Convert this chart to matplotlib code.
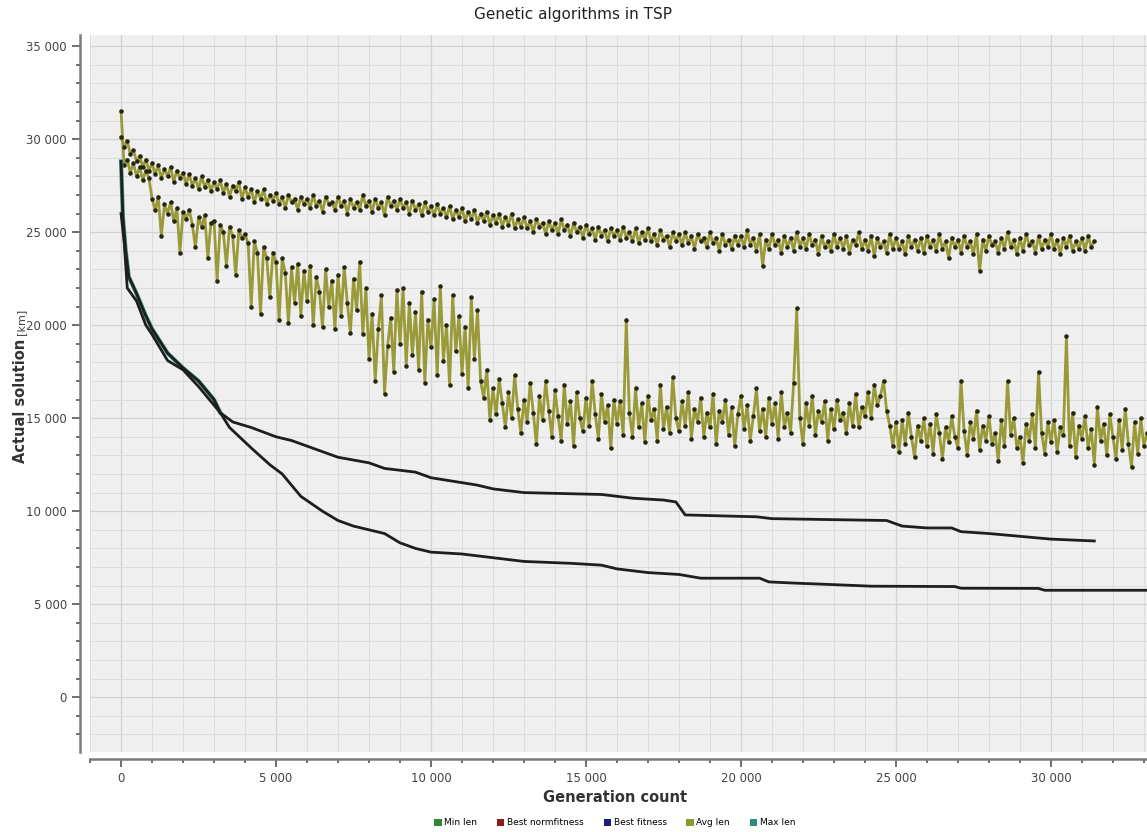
import numpy as np
import matplotlib
matplotlib.use("Agg")
import matplotlib.pyplot as plt
from matplotlib.patches import Patch
from matplotlib.ticker import MultipleLocator, FuncFormatter

# generation step between samples of the noisy series
gen_step = 100

# Max len (km, thousands), gens 0..31400
max_len_k = [
    30.1, 29.6, 29.9, 29.2, 29.4, 28.8, 29.1, 28.5, 28.9, 28.3,
    28.7, 28.1, 28.6, 27.9, 28.4, 28.0, 28.5, 27.7, 28.3, 27.9,
    28.2, 27.6, 28.1, 27.5, 27.9, 27.3, 28.0, 27.4, 27.8, 27.2,
    27.7, 27.3, 27.8, 27.1, 27.6, 26.9, 27.5, 27.2, 27.7, 26.8,
    27.4, 26.9, 27.3, 26.6, 27.2, 26.8, 27.3, 26.5, 27.0, 26.7,
    27.1, 26.5, 26.9, 26.3, 27.0, 26.6, 26.8, 26.2, 26.9, 26.5,
    26.8, 26.3, 27.0, 26.4, 26.7, 26.1, 26.9, 26.5, 26.6, 26.2,
    26.9, 26.4, 26.7, 26.0, 26.8, 26.3, 26.6, 26.2, 27.0, 26.4,
    26.7, 26.1, 26.8, 26.3, 26.6, 25.9, 26.9, 26.4, 26.7, 26.2,
    26.8, 26.3, 26.6, 26.0, 26.7, 26.2, 26.5, 25.9, 26.6, 26.1,
    26.4, 25.9, 26.5, 26.0, 26.3, 25.8, 26.4, 25.7, 26.2, 25.8,
    26.3, 25.6, 26.1, 25.7, 26.2, 25.5, 26.0, 25.6, 26.1, 25.4,
    25.9, 25.5, 26.0, 25.3, 25.8, 25.4, 26.0, 25.2, 25.7, 25.3,
    25.8, 25.2, 25.6, 25.0, 25.7, 25.3, 25.5, 24.9, 25.6, 25.1,
    25.5, 24.9, 25.7, 25.1, 25.4, 24.8, 25.5, 25.0, 25.3, 24.7,
    25.4, 24.9, 25.2, 24.6, 25.3, 24.8, 25.1, 24.5, 25.2, 24.8,
    25.1, 24.6, 25.3, 24.7, 25.0, 24.5, 25.2, 24.4, 25.0, 24.6,
    25.2, 24.5, 24.9, 24.3, 25.1, 24.6, 24.8, 24.2, 25.0, 24.5,
    24.9, 24.3, 25.0, 24.4, 24.8, 24.1, 24.9, 24.5, 24.7, 24.2,
    25.0, 24.4, 24.7, 24.0, 24.9, 24.3, 24.6, 24.1, 24.8, 24.3,
    24.8, 24.2, 25.1, 24.3, 24.7, 24.0, 24.9, 23.2, 24.6, 24.1,
    24.9, 24.3, 24.6, 23.9, 24.8, 24.2, 24.7, 24.0, 25.0, 24.2,
    24.7, 24.1, 24.9, 24.3, 24.6, 23.8, 24.8, 24.2, 24.5, 24.0,
    24.9, 24.2, 24.7, 24.1, 24.8, 23.9, 24.6, 24.3, 25.0, 24.1,
    24.6, 24.0, 24.8, 23.7, 24.7, 24.2, 24.5, 23.9, 24.9, 24.1,
    24.7, 24.1, 24.5, 23.8, 24.8, 24.2, 24.6, 24.0, 24.7, 23.9,
    24.8, 24.2, 24.6, 24.0, 24.9, 24.1, 24.5, 23.6, 24.7, 24.2,
    24.6, 23.9, 24.8, 24.2, 24.5, 23.8, 24.9, 22.9, 24.6, 24.0,
    24.8, 24.3, 24.5, 23.9, 24.7, 24.1, 25.0, 24.2, 24.6, 23.8,
    24.7, 24.0, 24.9, 24.3, 24.5, 23.9, 24.8, 24.1, 24.6, 24.2,
    24.9, 24.1, 24.6, 23.8, 24.7, 24.2, 24.8, 24.0, 24.5, 24.1,
    24.7, 24.0, 24.8, 24.2, 24.5,
]

# Avg len (km, thousands), gens 0..33100
avg_len_k = [
    31.5, 28.6, 28.9, 28.2, 28.7, 28.0, 28.5, 27.8, 28.3, 27.9,
    26.8, 26.2, 26.9, 24.8, 26.5, 26.0, 26.6, 25.6, 26.3, 23.9,
    26.1, 25.7, 26.2, 25.4, 24.2, 25.8, 25.3, 25.9, 23.6, 25.5,
    25.6, 22.4, 25.4, 25.0, 23.2, 25.3, 24.8, 22.7, 25.1, 24.7,
    24.9, 24.4, 21.0, 24.5, 23.9, 20.6, 24.2, 23.6, 21.5, 23.9,
    23.4, 20.3, 23.6, 22.8, 20.1, 23.1, 21.2, 23.3, 20.5, 22.9,
    21.3, 23.2, 20.0, 22.6, 21.8, 19.9, 23.0, 21.0, 22.4, 19.8,
    22.7, 20.5, 23.1, 21.2, 19.6, 22.5, 20.8, 23.4, 19.5, 22.0,
    18.2, 20.6, 17.0, 19.8, 21.6, 16.3, 18.9, 20.4, 17.5, 21.9,
    19.0, 22.0, 17.8, 21.2, 18.4, 20.7, 17.6, 21.8, 16.9, 20.3,
    18.8, 21.4, 17.3, 22.1, 18.1, 20.0, 16.8, 21.6, 18.6, 20.5,
    17.4, 19.9, 16.6, 21.5, 18.2, 20.8, 17.0, 16.1, 17.6, 14.9,
    16.6, 15.2, 17.1, 15.8, 14.5, 16.4, 15.0, 17.3, 15.5, 14.2,
    16.0, 14.8, 16.9, 15.3, 13.6, 16.2, 14.9, 17.0, 15.4, 14.0,
    16.5, 15.1, 13.8, 16.8, 14.7, 15.9, 13.5, 16.4, 15.0, 14.3,
    16.1, 14.6, 17.0, 15.2, 13.9, 16.3, 14.8, 15.7, 13.4, 16.0,
    14.7, 15.9, 14.1, 20.3, 15.3, 14.0, 16.6, 14.5, 15.8, 13.7,
    16.2, 14.9, 15.5, 13.8, 16.8, 14.4, 15.6, 14.2, 17.2, 15.0,
    14.3, 15.9, 14.6, 16.4, 13.9, 15.5, 14.8, 16.1, 14.0, 15.3,
    14.5, 16.3, 13.6, 15.4, 14.8, 16.0, 14.1, 15.6, 13.5, 15.2,
    16.2, 14.4, 15.7, 13.8, 15.1, 16.6, 14.3, 15.5, 14.0, 16.1,
    14.7, 15.8, 13.9, 16.4, 14.5, 15.3, 14.2, 16.9, 20.9, 15.0,
    13.6, 15.8, 14.6, 16.2, 14.1, 15.4, 14.8, 15.9, 13.8, 15.5,
    14.4, 16.0, 14.9, 15.3, 14.2, 15.8, 14.6, 16.3, 14.5, 15.6,
    15.1, 16.4, 15.0, 16.8, 15.7, 16.2, 17.0, 15.4, 14.6, 13.5,
    14.8, 13.2, 14.9, 13.6, 15.3, 14.0, 12.9, 14.6, 13.8, 15.0,
    13.5, 14.7, 13.1, 15.2, 14.2, 12.8, 14.5, 13.7, 15.1, 14.0,
    13.4, 17.0, 14.3, 13.0, 14.8, 13.9, 15.4, 13.3, 14.6, 13.8,
    15.1, 13.6, 14.2, 12.7, 14.9, 13.5, 17.0, 14.1, 15.0, 13.4,
    14.0, 12.6, 14.7, 13.8, 15.2, 13.4, 17.5, 14.2, 13.1, 14.8,
    13.7, 14.9, 13.2, 14.5, 14.1, 19.4, 13.5, 15.3, 12.9, 14.6,
    13.9, 15.1, 13.4, 14.4, 12.5, 15.6, 13.8, 14.7, 13.0, 15.2,
    14.0, 12.8, 14.9, 13.3, 15.5, 13.6, 12.4, 14.8, 13.1, 15.0,
    13.5, 14.2,
]

# Best (min) length, run ending at 31400
min_a_gen = [0, 60, 150, 250, 500, 800, 1000, 1500, 2000, 2500, 3000, 3200,
             3600, 4200, 5000, 5500, 6000, 7000, 8000, 8500, 9500, 10000,
             11500, 12000, 13000, 15500, 16500, 17500, 17900, 18200, 20500,
             21000, 24700, 25200, 26000, 26800, 27100, 28000, 29000, 30000,
             31400]
min_a_km = [28800, 25800, 24000, 22600, 21700, 20500, 19800, 18500, 17700,
            17000, 16000, 15300, 14800, 14500, 14000, 13800, 13500, 12900,
            12600, 12300, 12100, 11800, 11400, 11200, 11000, 10900, 10700,
            10600, 10500, 9800, 9700, 9600, 9500, 9200, 9100, 9100, 8900,
            8800, 8650, 8500, 8400]

# Best (min) length, run continuing past the right edge
min_b_gen = [0, 100, 200, 500, 800, 1000, 1500, 2000, 2500, 3000, 3200, 3500,
             4200, 4800, 5200, 5800, 6500, 7000, 7500, 8500, 9000, 9500,
             10000, 11000, 12000, 13000, 14500, 15500, 16000, 17000, 18000,
             18700, 20600, 20900, 21800, 22600, 24200, 26900, 27100, 29600,
             29800, 33100]
min_b_km = [26000, 24500, 22000, 21300, 20000, 19500, 18100, 17600, 16700,
            15700, 15300, 14500, 13400, 12500, 12000, 10800, 10000, 9500,
            9200, 8800, 8300, 8000, 7800, 7700, 7500, 7300, 7200, 7100, 6900,
            6700, 6600, 6400, 6400, 6200, 6130, 6080, 5970, 5950, 5860, 5850,
            5750, 5750]

legend_labels = ["Min len", "Best normfitness", "Best fitness", "Avg len", "Max len"]
legend_colors = ["#2f8a2f", "#8a1c1c", "#1c1c7a", "#8c9a30", "#2f8a80"]

fig = plt.figure(figsize=(11.47, 8.32), dpi=100)
ax = fig.add_axes([0.0785, 0.096, 0.9215, 0.862])
ax.set_facecolor("#efefef")

max_x = np.arange(len(max_len_k)) * gen_step
avg_x = np.arange(len(avg_len_k)) * gen_step
max_y = np.array(max_len_k) * 1000
avg_y = np.array(avg_len_k) * 1000

for xs, ys in [(avg_x, avg_y), (max_x, max_y)]:
    ax.plot(xs, ys, color="#9a9a3a", lw=2.0, zorder=3)
    ax.plot(xs, ys, ls="none", marker=".", ms=4.5, color="#262610", zorder=4)

# teal edge on the steep start of the min line
ax.plot(min_a_gen[:12], min_a_km[:12], color="#3f9a8c", lw=3, zorder=5)
ax.plot(min_a_gen, min_a_km, color="#1e1e1e", lw=2, zorder=6)
ax.plot(min_b_gen, min_b_km, color="#1e1e1e", lw=2, zorder=6)

ax.set_xlim(-1000, 33100)
ax.set_ylim(-2950, 35600)
ax.xaxis.set_major_locator(MultipleLocator(5000))
ax.xaxis.set_minor_locator(MultipleLocator(1000))
ax.yaxis.set_major_locator(MultipleLocator(5000))
ax.yaxis.set_minor_locator(MultipleLocator(1000))
fmt = FuncFormatter(lambda v, p: f"{int(v):,}".replace(",", " "))
ax.xaxis.set_major_formatter(fmt)
ax.yaxis.set_major_formatter(fmt)

ax.grid(True, which="major", color="#d2d2d2", lw=0.9)
ax.grid(True, which="minor", color="#dcdcdc", lw=0.7)
ax.set_axisbelow(True)

for s in ["top", "right"]:
    ax.spines[s].set_visible(False)
ax.spines["left"].set_position(("outward", 7))
ax.spines["bottom"].set_position(("outward", 5))
for s in ["left", "bottom"]:
    ax.spines[s].set_color("#7a7a7a")
    ax.spines[s].set_linewidth(1.8)
ax.tick_params(which="major", length=6, width=1.2, color="#555555",
               labelsize=8.5, labelcolor="#444444")
ax.tick_params(which="minor", length=3, width=1.2, color="#555555")

fig.text(0.5, 0.983, "Genetic algorithms in TSP", ha="center", va="center",
         fontsize=11, color="#222222")
fig.text(0.536, 0.042, "Generation count", ha="center", va="center",
         fontsize=10.5, weight="bold", color="#333333")

# y label: bold part, then "[km]" stacked right above it
ylab = fig.text(0.018, 1 - 463 / 832, "Actual solution", rotation=90, ha="center",
                va="bottom", fontsize=10.5, weight="bold", color="#333333")
fig.canvas.draw()
bb = ylab.get_window_extent().transformed(fig.transFigure.inverted())
fig.text(0.018, bb.y1 + 0.004, "[km]", rotation=90, ha="center",
         va="bottom", fontsize=8, color="#444444")

handles = [Patch(facecolor=c, edgecolor="none") for c in legend_colors]
fig.legend(handles, legend_labels, loc="center", bbox_to_anchor=(0.536, 0.011),
           ncol=5, frameon=False, fontsize=6.5, handlelength=0.8, handleheight=0.8,
           handletextpad=0.3, columnspacing=2.2)

fig.savefig("out.png", dpi=100)
